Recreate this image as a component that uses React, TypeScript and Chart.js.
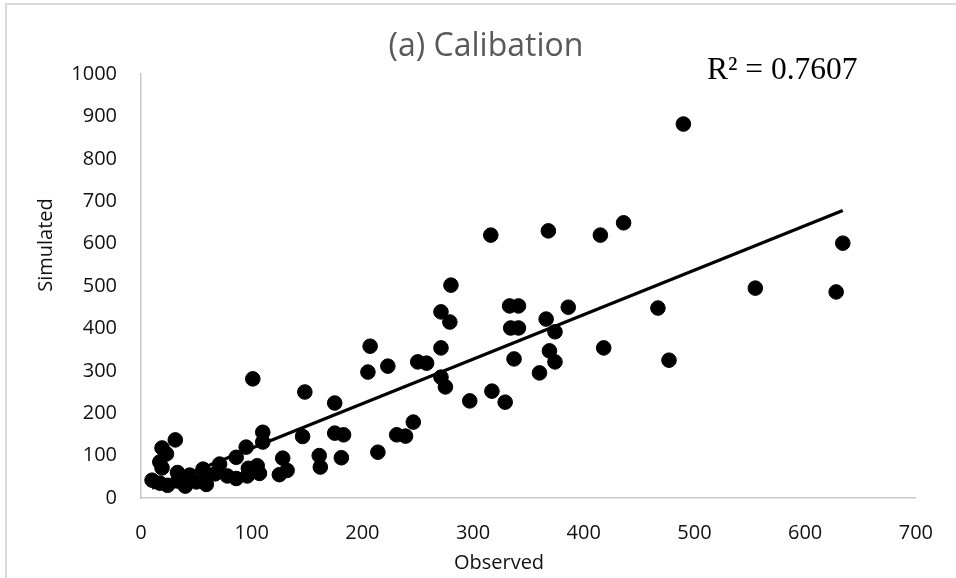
import React, { useEffect, useRef } from "react";
import { Chart, registerables } from "chart.js";

Chart.register(...registerables);

const observed = [
  10, 17, 24, 19, 23, 17, 19, 31, 33, 33, 40, 44, 50, 56, 59, 59, 67, 71, 78, 86,
  86, 95, 97, 96, 105, 107, 110, 110, 101, 125, 128, 132, 146, 148, 161, 162, 175, 175, 183, 181,
  205, 207, 214, 223, 231, 239, 246, 250, 258, 271, 279, 280, 271, 271, 275, 297, 316, 317, 329, 333,
  341, 334, 341, 337, 360, 366, 368, 369, 374, 374, 386, 415, 418, 436, 467, 477, 490, 555, 628, 634,
];
const simulated = [
  42, 35, 30, 118, 104, 85, 71, 137, 40, 60, 28, 54, 38, 68, 50, 32, 57, 80, 52, 46,
  96, 120, 70, 52, 76, 58, 155, 132, 281, 55, 94, 65, 145, 250, 100, 73, 224, 153, 149, 95,
  297, 358, 108, 311, 149, 146, 179, 321, 318, 439, 415, 502, 354, 285, 262, 229, 620, 252, 226, 453,
  453, 401, 401, 328, 295, 422, 630, 347, 392, 321, 450, 620, 354, 649, 448, 325, 882, 495, 486, 601,
];
const trendObserved = [10, 634];
const trendSimulated = [23, 678];

const titleText = "(a) Calibation";
const r2Text = "R² = 0.7607";
const xAxisTitle = "Observed";
const yAxisTitle = "Simulated";
const xMin = 0, xMax = 700, xStep = 100;
const yMin = 0, yMax = 1000, yStep = 100;

export default function App() {
  const ref = useRef<HTMLCanvasElement | null>(null);
  useEffect(() => {
    if (!ref.current) return;
    const pts = observed.map((x, i) => ({ x, y: simulated[i] }));
    const trend = trendObserved.map((x, i) => ({ x, y: trendSimulated[i] }));
    const tickFont = { family: "'Open Sans', sans-serif", size: 20 };
    const chart = new Chart(ref.current, {
      type: "scatter",
      data: {
        datasets: [
          {
            type: "line",
            label: "Trend",
            data: trend,
            borderColor: "#000",
            borderWidth: 3.2,
            pointRadius: 0,
            fill: false,
          } as any,
          {
            label: "Data",
            data: pts,
            backgroundColor: "#000",
            borderColor: "#000",
            borderWidth: 1,
            pointRadius: 7.3,
          },
        ],
      },
      options: {
        animation: false,
        responsive: false,
        maintainAspectRatio: false,
        layout: { padding: { top: 74, right: 38, left: 0, bottom: 0 } },
        plugins: { legend: { display: false }, tooltip: { enabled: false }, title: { display: false } },
        scales: {
          x: {
            type: "linear",
            min: xMin,
            max: xMax,
            afterFit: (s: any) => { s.height = 80; },
            ticks: { stepSize: xStep, color: "#111", font: tickFont, padding: 23, callback: (v: any) => String(v) },
            grid: { display: false, drawTicks: false },
            border: { display: true, color: "#c8c8c8", width: 1.5 },
          },
          y: {
            type: "linear",
            min: yMin,
            max: yMax,
            afterFit: (s: any) => { s.width = 141; },
            ticks: { stepSize: yStep, color: "#111", font: tickFont, padding: 24, callback: (v: any) => String(v) },
            grid: { display: false, drawTicks: false },
            border: { display: true, color: "#c8c8c8", width: 1.5 },
          },
        },
      },
    });
    return () => chart.destroy();
  }, []);
  const axisFont = { fontFamily: "'Open Sans', sans-serif", fontSize: 20, color: "#111", whiteSpace: "nowrap" as const };
  return (
    <div style={{ position: "fixed", left: 0, top: 0, width: 956, height: 578, background: "#fff", overflow: "hidden" }}>
      <div style={{ position: "absolute", left: 5, top: 3, right: -10, bottom: -10, borderTop: "2px solid #d9d9d9", borderLeft: "2px solid #d9d9d9" }} />
      <canvas ref={ref} width={956} height={578} style={{ position: "absolute", left: 0, top: 0 }} />
      <div style={{ position: "absolute", left: 0, width: 972, top: 22, textAlign: "center", fontFamily: "'Open Sans', sans-serif", fontSize: 32, color: "#595959", lineHeight: "44px", whiteSpace: "nowrap" }}>{titleText}</div>
      <div style={{ position: "absolute", left: 707, top: 49, fontFamily: "'Liberation Serif', 'Times New Roman', serif", fontSize: 31.5, color: "#000", lineHeight: "40px", whiteSpace: "nowrap" }}>{r2Text}</div>
      <div style={{ ...axisFont, position: "absolute", left: 399, width: 200, top: 547, lineHeight: "30px", textAlign: "center" }}>{xAxisTitle}</div>
      <div style={{ ...axisFont, position: "absolute", left: -55, width: 200, top: 230, lineHeight: "30px", textAlign: "center", transform: "rotate(-90deg)" }}>{yAxisTitle}</div>
    </div>
  );
}
